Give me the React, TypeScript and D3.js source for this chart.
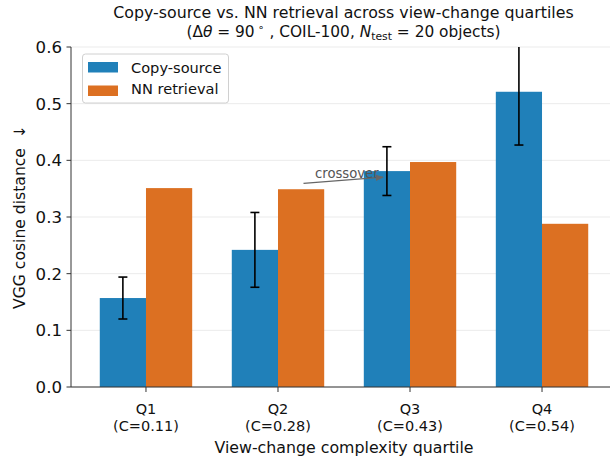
import React from "react";
import * as d3 from "d3";

const categories = ["Q1", "Q2", "Q3", "Q4"];
const complexity = ["0.11", "0.28", "0.43", "0.54"];
const copySource = [0.157, 0.242, 0.381, 0.521];
const copySourceErr = [0.037, 0.066, 0.043, 0.094];
const nnRetrieval = [0.351, 0.349, 0.397, 0.288];
const yTicks = [0, 0.1, 0.2, 0.3, 0.4, 0.5, 0.6];
const seriesNames = ["Copy-source", "NN retrieval"];

const W = 610;
const H = 457;
const FONT = "DejaVu Sans, sans-serif";
const BLUE = "#2080b9";
const ORANGE = "#dc7022";

export default function App() {
  const left = 71, right = 617, top = 47, bottom = 387;
  const x = d3.scaleLinear().domain([-0.568, 3.568]).range([left, right]);
  const y = d3.scaleLinear().domain([0, 0.6]).range([bottom, top]);
  const bw = 0.35;
  const bwPx = x(bw) - x(0);
  const fmt = d3.format(".1f");
  const cx = (left + right) / 2 - 0.5;

  return (
    <svg width={W} height={H} style={{ position: "absolute", left: 0, top: 0, fontFamily: FONT }}>
      <defs>
        <clipPath id="plotclip">
          <rect x={left} y={top} width={right - left} height={bottom - top} />
        </clipPath>
        <marker id="arrowhead" viewBox="0 0 10 10" refX="9" refY="5" markerWidth="8" markerHeight="8" orient="auto" markerUnits="userSpaceOnUse">
          <path d="M0,1 L10,5 L0,9 z" fill="#666" />
        </marker>
      </defs>
      <rect x={0} y={0} width={W} height={H} fill="white" />
      {yTicks.map((t) => (
        <line key={"g" + t} x1={left} x2={right} y1={y(t)} y2={y(t)} stroke="#ebebeb" strokeWidth={1} />
      ))}
      {categories.map((c, i) => (
        <g key={c}>
          <rect x={x(i) - bwPx} y={y(copySource[i])} width={bwPx} height={y(0) - y(copySource[i])} fill={BLUE} />
          <rect x={x(i)} y={y(nnRetrieval[i])} width={bwPx} height={y(0) - y(nnRetrieval[i])} fill={ORANGE} />
        </g>
      ))}
      <g clipPath="url(#plotclip)">
        {categories.map((c, i) => {
          const ex = x(i - bw / 2);
          const lo = y(copySource[i] - copySourceErr[i]);
          const hi = y(copySource[i] + copySourceErr[i]);
          return (
            <g key={"e" + c} stroke="black" strokeWidth={1.6}>
              <line x1={ex} x2={ex} y1={lo} y2={hi} />
              <line x1={ex - 4.5} x2={ex + 4.5} y1={lo} y2={lo} />
              <line x1={ex - 4.5} x2={ex + 4.5} y1={hi} y2={hi} />
            </g>
          );
        })}
      </g>
      <line x1={303.5} y1={183.3} x2={383} y2={177.2} stroke="#666" strokeWidth={1.3} markerEnd="url(#arrowhead)" />
      <text x={315} y={177.5} fontSize={13.2} fill="#555">crossover</text>
      <line x1={left} x2={left} y1={top} y2={bottom} stroke="#333" strokeWidth={1} />
      <line x1={left} x2={right} y1={bottom} y2={bottom} stroke="#333" strokeWidth={1} />
      {yTicks.map((t) => (
        <g key={"yt" + t}>
          <line x1={left - 4.5} x2={left} y1={y(t)} y2={y(t)} stroke="#333" strokeWidth={1} />
          <text x={62} y={y(t)} dy="0.36em" textAnchor="end" fontSize={16.6} fill="#111">{fmt(t)}</text>
        </g>
      ))}
      {categories.map((c, i) => (
        <g key={"xt" + c}>
          <line x1={x(i)} x2={x(i)} y1={bottom} y2={bottom + 5} stroke="#333" strokeWidth={1} />
          <text x={x(i)} y={413.5} textAnchor="middle" fontSize={14.5} fill="#111">{c}</text>
          <text x={x(i)} y={430.5} textAnchor="middle" fontSize={14.5} fill="#111">{`(C=${complexity[i]})`}</text>
        </g>
      ))}
      <text x={344} y={453} textAnchor="middle" fontSize={15.8} fill="#111">View-change complexity quartile</text>
      <text transform={`translate(25,${(top + bottom) / 2}) rotate(-90)`} textAnchor="middle" fontSize={15.6} fill="#111" style={{ whiteSpace: "pre" }}>{"VGG cosine distance  ↓"}</text>
      <text x={cx} y={18} textAnchor="middle" fontSize={15.8} fill="#111">Copy-source vs. NN retrieval across view-change quartiles</text>
      <text x={cx} y={36.5} textAnchor="middle" fontSize={15.4} fill="#111">
        (Δ<tspan fontStyle="italic">θ</tspan> = 90<tspan dy="-6" fontSize={10.5}> ∘</tspan><tspan dy="6"> , COIL-100, </tspan><tspan fontStyle="italic">N</tspan><tspan dy="3" fontSize={10.8}>test</tspan><tspan dy="-3"> = 20 objects)</tspan>
      </text>
      <rect x={82.5} y={54} width={146} height={49} rx={3} fill="white" fillOpacity={0.85} stroke="#d0d0d0" strokeWidth={1} />
      {seriesNames.map((s, i) => (
        <g key={s}>
          <rect x={88} y={62 + i * 23.5} width={30} height={10.5} fill={i === 0 ? BLUE : ORANGE} />
          <text x={131} y={73 + i * 21} fontSize={14.6} fill="#111">{s}</text>
        </g>
      ))}
    </svg>
  );
}
